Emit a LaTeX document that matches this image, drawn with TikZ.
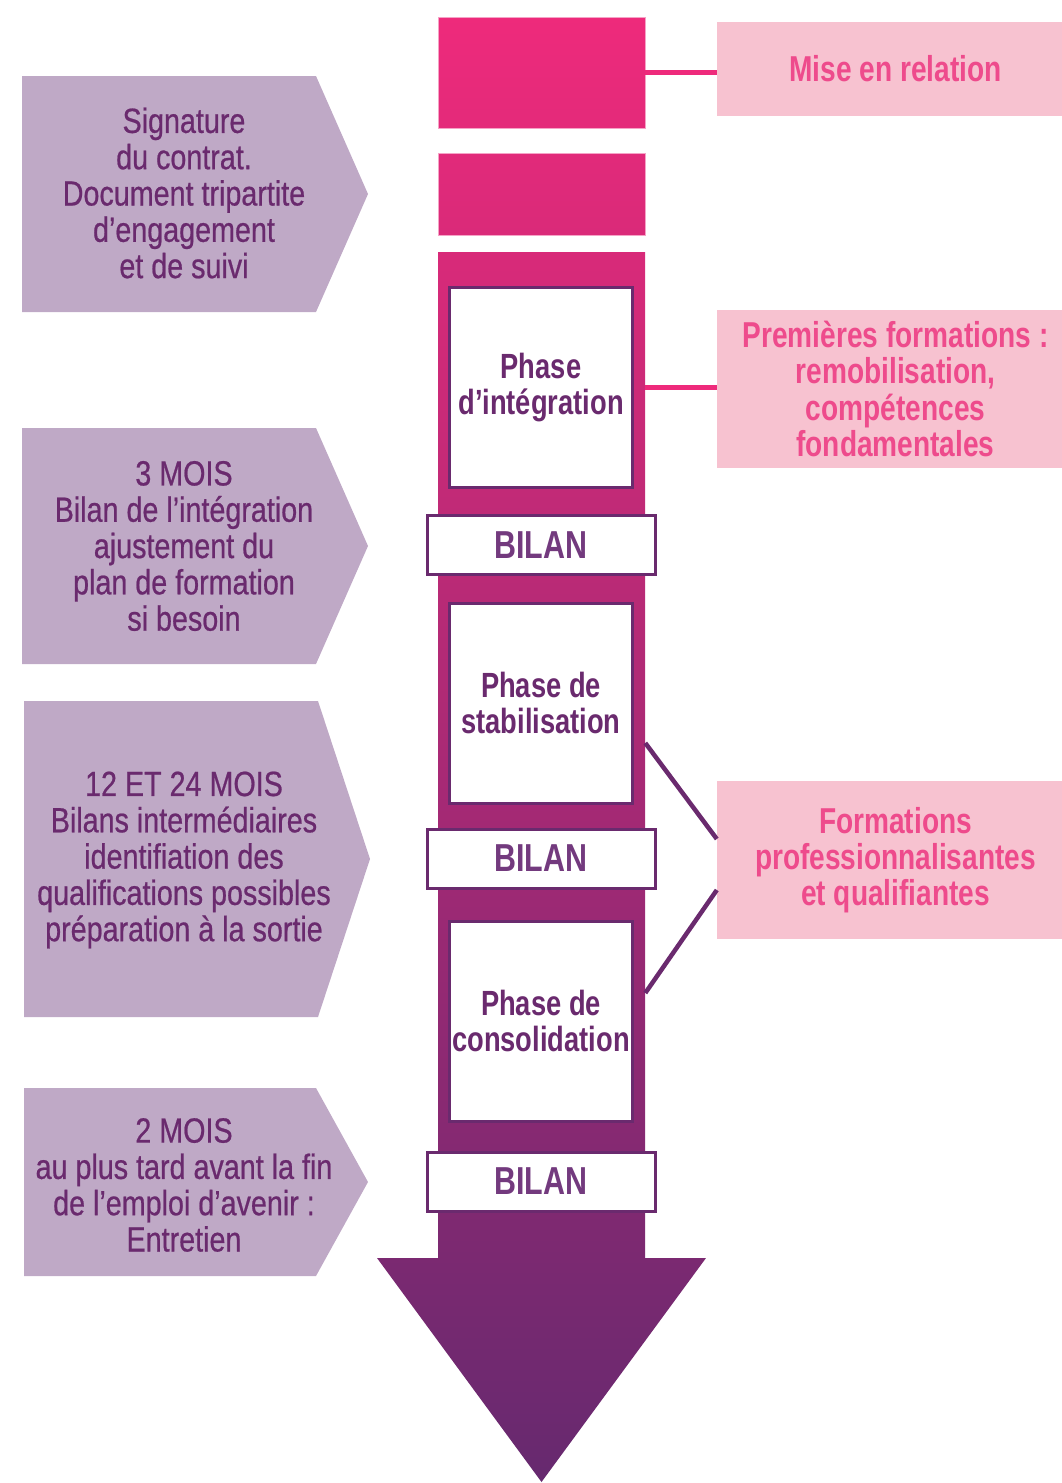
\documentclass[tikz,border=0pt]{standalone}
\usepackage{fontspec}
\setmainfont{Liberation Sans}
\newfontfamily\cnreg{Liberation Sans}[FakeStretch=0.82, FakeBold=0.6]
\newfontfamily\cnbold{Liberation Sans}[FakeStretch=0.78]
\usetikzlibrary{positioning,calc}
\definecolor{barpink}{HTML}{EE2A7B}
\definecolor{barpurple}{HTML}{66296F}
\definecolor{chevlilac}{HTML}{BFA9C6}
\definecolor{darkplum}{HTML}{6A2A6E}
\definecolor{bilanplum}{HTML}{733A7E}
\definecolor{softpink}{HTML}{F7C2D0}
\definecolor{hotpink}{HTML}{EE4B8C}
\definecolor{edgepink}{HTML}{F5A3C6}
\tikzstyle{barseg} = [draw=edgepink, line width=0.6pt, inner sep=0pt, minimum width=207pt]
\tikzstyle{phase} = [draw=darkplum, line width=3pt, fill=white, inner xsep=0pt, minimum width=183pt, minimum height=200pt, align=center, text=darkplum, font=\cnbold\bfseries\fontsize{35}{36}\selectfont]
\tikzstyle{bilan} = [draw=darkplum, line width=3pt, fill=white, minimum width=228pt, minimum height=59pt, text=bilanplum, font=\cnbold\bfseries\fontsize{39}{40}\selectfont]
\tikzstyle{rightbox} = [fill=softpink, minimum width=357pt, align=center, text=hotpink, inner sep=0pt, font=\cnbold\bfseries\fontsize{36}{36.3}\selectfont]
\tikzstyle{lefttext} = [inner sep=0pt, align=center, text=darkplum, font=\cnreg\fontsize{35}{36.3}\selectfont]
\tikzstyle{pinkline} = [draw=barpink, line width=5pt]
\tikzstyle{plumline} = [draw=darkplum, line width=4.5pt]

\begin{document}
\begin{tikzpicture}[x=1pt,y=-1pt]
\useasboundingbox (0,0) rectangle (1062,1483);
% the big arrow
\begin{scope}
\clip (438,17) rectangle (645,128) (438,153) rectangle (645,235)
(438,252) -- (645,252) -- (645,1258) -- (706,1258) -- (541.5,1482) -- (377,1258) -- (438,1258) -- cycle;
\shade[top color=barpink, bottom color=barpurple] (377,17) rectangle (706,1483);
\end{scope}
\node[barseg, minimum height=111pt] (seg1) at (541.5,72.5) {};
\node[barseg, minimum height=82pt] (seg2) at (541.5,194) {};
\node[barseg, draw=none, minimum height=1006pt] (stem) at (541.5,755) {};
% phases and bilans
\node[phase] (integ) at (541,387.5) {Phase\\d’intégration};
\node[bilan] (bilan1) at (541,545) {BILAN};
\node[phase] (stab) at (541,703) {Phase de\\stabilisation};
\node[bilan] (bilan2) at (541,858.5) {BILAN};
\node[phase] (consol) at (541,1021) {Phase de\\consolidation};
\node[bilan] (bilan3) at (541,1181.5) {BILAN};
% trainings on the right
\node[rightbox, minimum height=94pt] (mise) at (895.5,69) {Mise en relation};
\node[rightbox, minimum height=158pt] (prem) at (895.5,389) {Premières formations :\\remobilisation,\\compétences\\fondamentales};
\node[rightbox, minimum height=158pt] (forma) at (895.5,860) {Formations\\professionnalisantes\\et qualifiantes};
\draw[pinkline] (seg1.east) -- (seg1.east -| mise.west);
\draw[pinkline] (stem.east |- integ.east) -- (prem.west |- integ.east);
\draw[plumline] ($(stem.east |- stab.east)+(0,40)$) -- ($(forma.west)+(0,-21)$);
\draw[plumline] ($(stem.east |- consol.east)+(0,-28)$) -- ($(forma.west)+(0,30)$);
% steps on the left
\fill[chevlilac] (22,76) -- (316,76) -- (368,194) -- (316,312) -- (22,312) -- cycle;
\node[lefttext] (sign) at (184,193) {Signature\\du contrat.\\Document tripartite\\d’engagement\\et de suivi};
\fill[chevlilac] (22,428) -- (316,428) -- (368,546) -- (316,664) -- (22,664) -- cycle;
\node[lefttext] (mois3) at (184,546) {3 MOIS\\Bilan de l’intégration\\ajustement du\\plan de formation\\si besoin};
\fill[chevlilac] (24,701) -- (318,701) -- (370,859) -- (318,1017) -- (24,1017) -- cycle;
\node[lefttext] (mois12) at (184,860) {12 ET 24 MOIS\\Bilans intermédiaires\\identifiation des\\qualifications possibles\\préparation à la sortie};
\fill[chevlilac] (24,1088) -- (316,1088) -- (368,1182) -- (316,1276) -- (24,1276) -- cycle;
\node[lefttext] (mois2) at (184,1185) {2 MOIS\\au plus tard avant la fin\\de l’emploi d’avenir :\\Entretien};
\end{tikzpicture}
\end{document}
